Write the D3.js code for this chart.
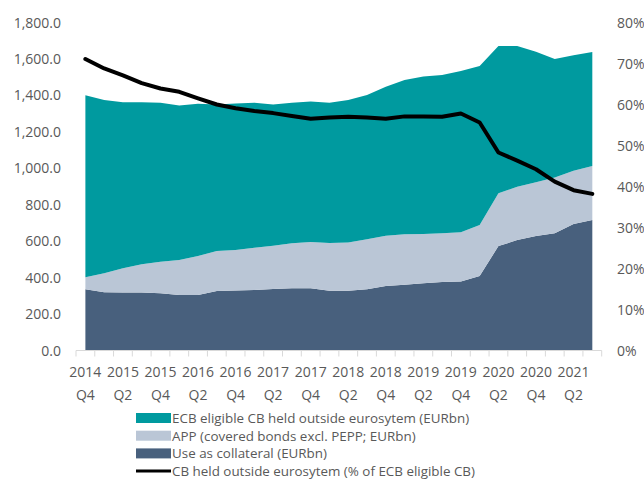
<!DOCTYPE html>
<meta charset="utf-8">
<style>
body { margin: 0; background: #fff; }
text {
  font-family: "Open Sans", sans-serif;
  fill: #595959;
}
</style>
<svg width="644" height="479"></svg>
<script src="https://cdn.jsdelivr.net/npm/d3@7/dist/d3.min.js"></script>
<script>

var quarters = ["2014 Q4",
  "2015 Q1", "2015 Q2", "2015 Q3", "2015 Q4",
  "2016 Q1", "2016 Q2", "2016 Q3", "2016 Q4",
  "2017 Q1", "2017 Q2", "2017 Q3", "2017 Q4",
  "2018 Q1", "2018 Q2", "2018 Q3", "2018 Q4",
  "2019 Q1", "2019 Q2", "2019 Q3", "2019 Q4",
  "2020 Q1", "2020 Q2", "2020 Q3", "2020 Q4",
  "2021 Q1", "2021 Q2", "2021 Q3"];

// EURbn, stacked bottom to top
var collateral = [336, 319, 318, 318, 314, 305, 305, 327, 329, 332, 337, 341, 341, 328,
                  328, 336, 354, 361, 369, 376, 378, 409, 573, 606, 628, 643, 694, 716];
var app        = [66, 105, 133, 155, 173, 192, 214, 219, 223, 232, 238, 247, 254, 262,
                  264, 274, 276, 277, 270, 267, 271, 280, 290, 293, 295, 306, 293, 297];
var outside    = [999, 951, 911, 889, 873, 848, 835, 804, 804, 796, 775, 772, 771, 770,
                  783, 792, 818, 846, 864, 869, 885, 872, 808, 772, 717, 651, 633, 625];
// % of ECB eligible CB (right axis)
var outsidePct = [71.1, 68.8, 67.1, 65.2, 63.9, 63.1, 61.5, 60.0, 59.1, 58.4, 57.9, 57.2, 56.5, 56.8,
                  57.0, 56.8, 56.5, 57.1, 57.1, 57.0, 57.8, 55.6, 48.3, 46.3, 44.2, 41.2, 39.1, 38.2];

var leftTicks = [0, 200, 400, 600, 800, 1000, 1200, 1400, 1600, 1800];
var rightTicks = [0, 10, 20, 30, 40, 50, 60, 70, 80];

var seriesNames = ["ECB eligible CB held outside eurosytem (EURbn)",
                   "APP (covered bonds excl. PEPP; EURbn)",
                   "Use as collateral (EURbn)",
                   "CB held outside eurosytem (% of ECB eligible CB)"];

var teal = "#009a9f", light = "#bac6d6", dark = "#48607d";

var svg = d3.select("svg");

var x = d3.scaleBand().domain(quarters).range([76, 601.7]).padding(0);
var y = d3.scaleLinear().domain([0, 1800]).range([350.5, 22.5]);
var y2 = d3.scaleLinear().domain([0, 80]).range([350.5, 22.5]);

function cx(q) { return x(q) + x.bandwidth() / 2; }

// build table for the stack
var table = quarters.map(function(q, i) {
  return {q: q, collateral: collateral[i], app: app[i], outside: outside[i]};
});
var stack = d3.stack().keys(["collateral", "app", "outside"]);
var layers = stack(table);
var colours = {collateral: dark, app: light, outside: teal};

var area = d3.area()
  .x(function(d) { return cx(d.data.q); })
  .y0(function(d) { return y(d[0]); })
  .y1(function(d) { return y(d[1]); });

svg.append("g").selectAll("path")
  .data(layers)
  .enter().append("path")
  .attr("d", area)
  .style("fill", function(d) { return colours[d.key]; });

// percentage line
var line = d3.line()
  .x(function(d, i) { return cx(quarters[i]); })
  .y(function(d) { return y2(d); });

svg.append("path")
  .datum(outsidePct)
  .attr("d", line)
  .style("fill", "none")
  .style("stroke", "#000")
  .style("stroke-width", 4)
  .style("stroke-linejoin", "round")
  .style("stroke-linecap", "round");

// x axis line and ticks at category boundaries
var xa = svg.append("g");
xa.append("line")
  .attr("x1", 76).attr("x2", 601.7)
  .attr("y1", 350.5).attr("y2", 350.5)
  .style("stroke", "#d9d9d9").style("stroke-width", 1);
var bounds = quarters.map(function(q) { return x(q); }).concat([x.range()[1]]);
xa.selectAll("line.tk")
  .data(bounds)
  .enter().append("line")
  .attr("class", "tk")
  .attr("x1", function(d) { return d; }).attr("x2", function(d) { return d; })
  .attr("y1", 350.5).attr("y2", 356.5)
  .style("stroke", "#d9d9d9").style("stroke-width", 1);

var labelled = quarters.filter(function(q, i) { return i % 2 == 0; });
var xl = xa.selectAll("text")
  .data(labelled)
  .enter().append("text")
  .attr("text-anchor", "middle")
  .style("font-size", "14px");
xl.append("tspan")
  .attr("x", function(d) { return cx(d); })
  .attr("y", 376.5)
  .text(function(d) { return d.split(" ")[0]; });
xl.append("tspan")
  .attr("x", function(d) { return cx(d); })
  .attr("y", 400)
  .text(function(d) { return d.split(" ")[1]; });

// left axis labels
svg.append("g").selectAll("text")
  .data(leftTicks)
  .enter().append("text")
  .attr("x", 61)
  .attr("y", function(d) { return y(d) + 5; })
  .attr("text-anchor", "end")
  .style("font-size", "14px")
  .text(function(d) { return d3.format(",.1f")(d); });

// right axis labels
svg.append("g").selectAll("text")
  .data(rightTicks)
  .enter().append("text")
  .attr("x", 617)
  .attr("y", function(d) { return y2(d) + 5; })
  .style("font-size", "14px")
  .text(function(d) { return d + "%"; });

// legend
var legendColours = [teal, light, dark, "#000"];
var lg = svg.append("g");
seriesNames.forEach(function(name, i) {
  var ly = 418 + i * 17.7;
  if (i < 3) {
    lg.append("rect")
      .attr("x", 136).attr("y", ly - 5)
      .attr("width", 35).attr("height", 10)
      .style("fill", legendColours[i]);
  } else {
    lg.append("line")
      .attr("x1", 136).attr("x2", 171)
      .attr("y1", ly).attr("y2", ly)
      .style("stroke", "#000").style("stroke-width", 3);
  }
  lg.append("text")
    .attr("x", 172)
    .attr("y", ly + 5)
    .style("font-size", "13.4px")
    .text(name);
});

</script>
